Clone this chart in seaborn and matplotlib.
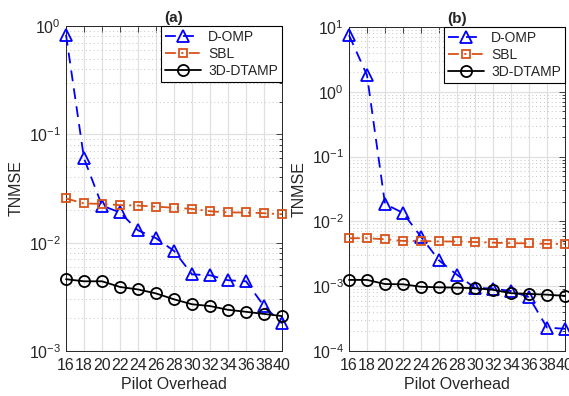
import numpy as np
import pandas as pd
import seaborn as sns
import matplotlib
matplotlib.use("Agg")
import matplotlib.pyplot as plt
from matplotlib.ticker import LogLocator, FixedLocator, NullFormatter

pilot = [16, 18, 20, 22, 24, 26, 28, 30, 32, 34, 36, 38, 40]

a_domp = [0.83, 0.060, 0.022, 0.019, 0.013, 0.011, 0.0084, 0.0051, 0.0050, 0.0045, 0.0044, 0.0026, 0.0018]
a_sbl = [0.0256, 0.0230, 0.0228, 0.0222, 0.0220, 0.0215, 0.0210, 0.0205, 0.0195, 0.0190, 0.0190, 0.0187, 0.0183]
a_dtamp = [0.0046, 0.0044, 0.0044, 0.0039, 0.0037, 0.0034, 0.0030, 0.0027, 0.0026, 0.0024, 0.0023, 0.0022, 0.0021]

b_domp = [7.5, 1.8, 0.0186, 0.0135, 0.0058, 0.0025, 0.0015, 0.00094, 0.00092, 0.00084, 0.00068, 0.00023, 0.00022]
b_sbl = [0.0055, 0.0055, 0.0053, 0.0050, 0.0050, 0.0049, 0.0049, 0.0048, 0.0047, 0.0046, 0.0046, 0.0045, 0.0045]
b_dtamp = [0.00125, 0.00125, 0.00108, 0.00107, 0.00098, 0.00096, 0.00095, 0.00093, 0.00088, 0.00078, 0.00076, 0.00074, 0.00071]

series_names = ["D-OMP", "SBL", "3D-DTAMP"]
panel_titles = ["(a)", "(b)"]
xlabel = "Pilot Overhead"
ylabel = "TNMSE"

sns.set_theme(style="white")
plt.rcParams['font.family'] = ['Liberation Sans', 'DejaVu Sans']
plt.rcParams['mathtext.fontset'] = 'custom'
plt.rcParams['mathtext.rm'] = 'Liberation Sans'
plt.rcParams['mathtext.it'] = 'Liberation Sans'

fig = plt.figure(figsize=(5.69, 3.96), dpi=100)
ax_a = fig.add_axes([66/569, 1-351/396, 216/569, 325/396])
ax_b = fig.add_axes([349/569, 1-351/396, 216/569, 324/396])

styles = [
    dict(color=(0, 0, 1), marker='^', linestyle=(0, (6, 4)), markersize=9),
    dict(color='#D95319', marker='s', linestyle=(0, (6, 3, 1.2, 3)), markersize=5.5),
    dict(color='black', marker='o', linestyle='-', markersize=8),
]

txtc = '#262626'

def draw(ax, data, title, ylim, yticks):
    for name, vals, st in zip(series_names, data, styles):
        df = pd.DataFrame({"x": pilot, "y": vals})
        sns.lineplot(data=df, x="x", y="y", ax=ax, label=name,
                     color=st['color'], marker=st['marker'], linestyle=st['linestyle'],
                     markersize=st['markersize'], markerfacecolor='none',
                     markeredgecolor=st['color'], markeredgewidth=1.3, linewidth=1.3,
                     clip_on=False, zorder=3)
    ax.set_yscale('log')
    ax.set_xlim(16, 40)
    ax.set_ylim(*ylim)
    ax.xaxis.set_major_locator(FixedLocator(pilot))
    ax.set_xticklabels([str(p) for p in pilot])
    ax.yaxis.set_major_locator(FixedLocator(yticks))
    ax.set_yticklabels([r'$10^{%d}$' % int(np.log10(t)) for t in yticks])
    ax.yaxis.set_minor_locator(LogLocator(base=10, subs=np.arange(2, 10), numticks=20))
    ax.yaxis.set_minor_formatter(NullFormatter())
    ax.grid(True, which='major', axis='both', color='#E0E0E0', linewidth=0.9, linestyle='-')
    ax.grid(True, which='minor', axis='y', color='#C4C4C4', linewidth=0.7, linestyle=(0, (1, 3)))
    ax.set_axisbelow(True)
    ax.tick_params(axis='both', which='both', direction='in', top=True, right=True,
                   labelsize=11.5, colors=txtc, width=0.6)
    ax.tick_params(which='major', length=4)
    ax.tick_params(which='minor', length=2)
    ax.tick_params(axis='x', pad=5)
    for s in ax.spines.values():
        s.set_color(txtc)
        s.set_linewidth(0.7)
        s.set_visible(True)
    ax.set_xlabel(xlabel, fontsize=11.5, color=txtc, labelpad=3)
    ax.set_ylabel(ylabel, fontsize=11.5, color=txtc, labelpad=4)
    ax.set_title(title, fontsize=11, fontweight='bold', pad=3)
    leg = ax.legend(loc='upper right', borderaxespad=0, fontsize=10, frameon=True,
                    fancybox=False, edgecolor='black', framealpha=1,
                    handlelength=2.6, labelspacing=0.2, handletextpad=0.5,
                    borderpad=0.3)
    leg.get_frame().set_linewidth(0.8)
    leg.set_zorder(10)

draw(ax_a, [a_domp, a_sbl, a_dtamp], panel_titles[0], (1e-3, 1e0), [1e-3, 1e-2, 1e-1, 1e0])
draw(ax_b, [b_domp, b_sbl, b_dtamp], panel_titles[1], (1e-4, 1e1), [1e-4, 1e-3, 1e-2, 1e-1, 1e0, 1e1])

fig.savefig("out.png", dpi=100)
